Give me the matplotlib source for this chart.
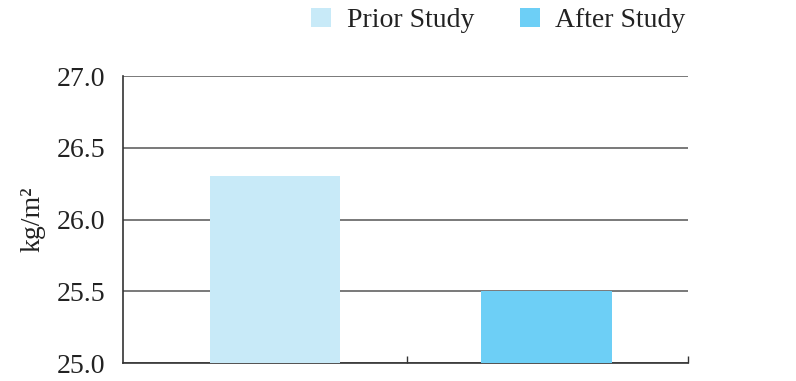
import matplotlib
matplotlib.use("Agg")
import matplotlib.pyplot as plt
from matplotlib.patches import Patch

categories = ["Prior Study", "After Study"]
values = [26.3, 25.5]
colors = ["#c8eaf8", "#6dcff6"]
yticks = [25.0, 25.5, 26.0, 26.5, 27.0]
ytick_labels = ["25.0", "25.5", "26.0", "26.5", "27.0"]

plt.rcParams['font.family'] = ['Liberation Serif', 'DejaVu Serif']

fig = plt.figure(figsize=(7.96, 3.81), dpi=100)
ax = fig.add_axes([0.1545, 0.0472, 0.864 - 0.1545, 0.8005 - 0.0472])

xpos = [0, 1]
ax.bar(xpos, values, width=0.48, color=colors, zorder=3)
ax.set_ylim(25.0, 27.0)
ax.set_xlim(-0.56, 1.52)
ax.set_yticks(yticks)
ax.set_yticklabels(ytick_labels, fontsize=20, color="#222222")
ax.tick_params(axis='y', length=0, pad=13)
ax.set_xticks([0.485, 1.52])
ax.set_xticklabels([])
ax.tick_params(axis='x', direction='in', length=5, width=1, color="#333333")
ax.grid(axis='y', color="#555555", linewidth=1.1, zorder=1)
ax.set_axisbelow(True)
for s in ['top', 'right']:
    ax.spines[s].set_visible(False)
for s in ['left', 'bottom']:
    ax.spines[s].set_color("#333333")
    ax.spines[s].set_linewidth(1.2)
ax.set_ylabel("kg/m²", fontsize=20, color="#222222", labelpad=8)

handles = [Patch(facecolor=c, edgecolor='none') for c in colors]
fig.legend(handles, categories, loc='center', bbox_to_anchor=(0.626, 0.947),
           ncol=2, frameon=False, fontsize=20, handlelength=0.72, handleheight=0.68,
           handletextpad=0.55, columnspacing=1.65, labelcolor="#222222")

fig.savefig("out.png", dpi=100)
